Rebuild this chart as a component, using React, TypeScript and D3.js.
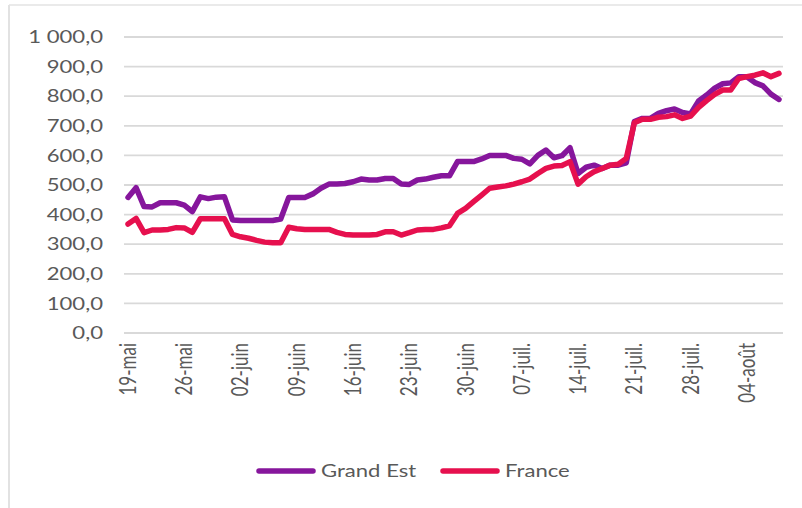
import React from "react";
import * as d3 from "d3";

const grandEst: number[] = [
  458, 491, 427, 426, 440, 440, 440, 432, 410, 460, 454, 459, 460, 382, 380, 380, 380, 380, 380, 385,
  458, 458, 458, 470, 489, 503, 503, 505, 511, 520, 517, 517, 522, 522, 503, 502, 517, 520, 526, 531,
  531, 579, 579, 579, 588, 600, 600, 600, 590, 587, 571, 600, 618, 592, 599, 626, 539, 560, 567, 556,
  567, 567, 575, 714, 725, 725, 742, 751, 757, 745, 740, 784, 804, 827, 842, 845, 866, 866, 846, 835,
  807, 789,
];

const france: number[] = [
  368, 387, 339, 348, 348, 350, 356, 355, 340, 386, 386, 386, 386, 333, 325, 320, 313, 307, 305, 305,
  357, 352, 350, 350, 350, 350, 340, 333, 331, 331, 331, 333, 342, 342, 331, 339, 348, 350, 350, 355,
  362, 404, 421, 444, 466, 489, 493, 497, 503, 511, 520, 539, 556, 564, 566, 579, 503, 528, 545, 556,
  567, 570, 590, 710, 722, 722, 729, 731, 737, 725, 733, 762, 785, 806, 821, 821, 860, 866, 871, 879,
  866, 877,
];

const monthNames: string[] = ["janv.", "févr.", "mars", "avr.", "mai", "juin", "juil.", "août", "sept.", "oct.", "nov.", "déc."];
const dates: Date[] = d3.timeDay.range(new Date(2020, 4, 19), new Date(2020, 7, 9));
const yTicks: number[] = [0, 100, 200, 300, 400, 500, 600, 700, 800, 900, 1000];

const seriesNames: string[] = ["Grand Est", "France"];
const seriesColors: string[] = ["#86169C", "#E6104E"];

const W = 802;
const H = 508;
const M = { left: 124, right: 783, top: 37, bottom: 333 };
const TEXT = "#595959";
const FONT = "Lato, 'Open Sans', sans-serif";
const SX = 1.3;

const fmtFr = (v: number) => {
  const s = v.toFixed(1).replace(".", ",");
  const [int, dec] = s.split(",");
  const withSpace = int.replace(/\B(?=(\d{3})+(?!\d))/g, " ");
  return `${withSpace},${dec}`;
};
const fmtDate = (d: Date) => `${d3.timeFormat("%d")(d)}-${monthNames[d.getMonth()]}`;

export default function App() {
  const x = d3
    .scalePoint<number>()
    .domain(dates.map((_, i) => i))
    .range([M.left, M.right])
    .padding(0.5);
  const y = d3.scaleLinear().domain([0, 1000]).range([M.bottom, M.top]);

  const line = d3
    .line<number>()
    .x((_, i) => x(i) as number)
    .y((v) => y(v));

  const series = [grandEst, france];
  const tickIdx = dates.map((_, i) => i).filter((i) => i % 7 === 0);

  const legendY = 471;
  const legendItems = [
    { x0: 259, tx: 321 },
    { x0: 443, tx: 505 },
  ];

  return (
    <svg
      width={W}
      height={H}
      style={{ position: "absolute", left: 0, top: 0, background: "#fff" }}
      fontFamily={FONT}
    >
      <line x1={9} x2={9} y1={5} y2={H} stroke="#D9D9D9" strokeWidth={1.5} />
      <line x1={9} x2={W} y1={5} y2={5} stroke="#E3E3E3" strokeWidth={1.5} />
      {yTicks.map((t) => (
        <g key={t}>
          <line x1={M.left} x2={M.right} y1={y(t)} y2={y(t)} stroke="#D9D9D9" strokeWidth={1.8} />
          <text
            transform={`translate(103,${y(t)}) scale(${SX},1)`}
            textAnchor="end"
            dy="0.36em"
            fontSize={17}
            fill={TEXT}
          >
            {fmtFr(t)}
          </text>
        </g>
      ))}
      {tickIdx.map((i) => (
        <text
          key={i}
          transform={`translate(${x(i)},343) scale(${SX},1) rotate(-90)`}
          textAnchor="end"
          dy="0.36em"
          fontSize={17}
          fill={TEXT}
        >
          {fmtDate(dates[i])}
        </text>
      ))}
      {series.map((s, k) => (
        <path
          key={k}
          d={line(s) ?? ""}
          fill="none"
          stroke={seriesColors[k]}
          strokeWidth={5.5}
          strokeLinejoin="round"
          strokeLinecap="round"
        />
      ))}
      {legendItems.map((it, k) => (
        <g key={k}>
          <line
            x1={it.x0}
            x2={it.x0 + 54}
            y1={legendY}
            y2={legendY}
            stroke={seriesColors[k]}
            strokeWidth={5.5}
            strokeLinecap="round"
          />
          <text
            transform={`translate(${it.tx},${legendY}) scale(${SX},1)`}
            dy="0.36em"
            fontSize={17}
            fill={TEXT}
          >
            {seriesNames[k]}
          </text>
        </g>
      ))}
    </svg>
  );
}
